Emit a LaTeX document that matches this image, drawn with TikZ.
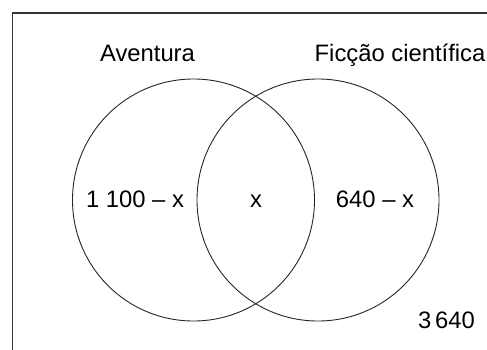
\documentclass[tikz,border=0pt]{standalone}
\usepackage{fontspec}
\setmainfont{Liberation Sans}
\begin{document}
\begin{tikzpicture}[x=1pt,y=-1pt,
  lbl/.style={font=\fontsize{23.8}{28}\selectfont, anchor=base, inner sep=0pt},
  setcircle/.style={draw=black!85, line width=0.9pt},
  frameline/.style={draw=black!80, line width=1.4pt}]
\useasboundingbox (0,0) rectangle (487,349);
\coordinate (ftl) at (12.5,13);
\coordinate (ftr) at (490,13);
\coordinate (fbl) at (12.5,352);
\draw[frameline] (ftr) -- (ftl) -- (fbl);
\node[setcircle, circle, minimum size=242pt, inner sep=0pt] (A) at (193.5,200) {};
\node[setcircle, circle, minimum size=242pt, inner sep=0pt] (F) at (318,200) {};
\node[lbl] (tA) at (147.5,61.5) {Aventura};
\node[lbl] (tF) at (400,61.5) {Ficção científica};
\node[lbl] (nA) at (135,207) {1 100 – x};
\node[lbl] (nAF) at (256,207) {x};
\node[lbl] (nF) at (375,207) {640 – x};
\node[lbl] (nU) at (446.5,328) {3\,640};
\end{tikzpicture}
\end{document}
